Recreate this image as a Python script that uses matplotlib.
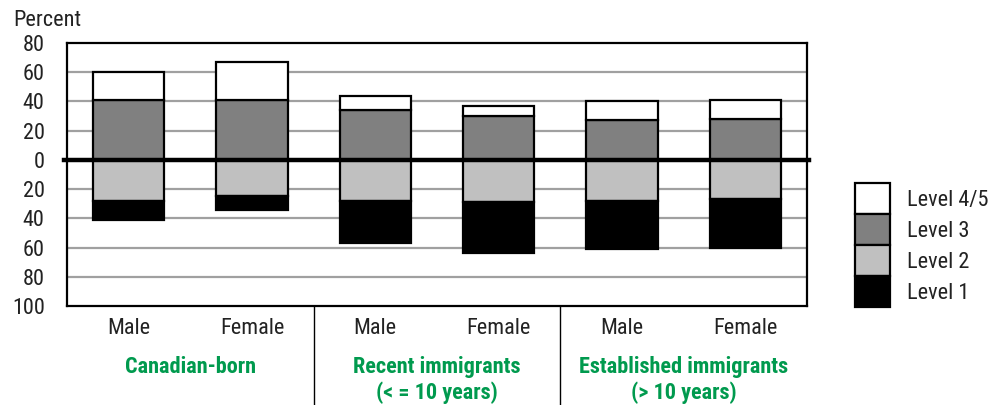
import os
import matplotlib.pyplot as plt
import numpy as np
from matplotlib.patches import Patch
from matplotlib import font_manager as fm

# bars: Male / Female within each group
sexes = ['Male', 'Female', 'Male', 'Female', 'Male', 'Female']
groups = ['Canadian-born', 'Recent immigrants\n(< = 10 years)', 'Established immigrants\n(> 10 years)']

level1 = [13, 9, 29, 35, 33, 33]
level2 = [28, 25, 28, 29, 28, 27]
level3 = [41, 41, 34, 30, 27, 28]
level45 = [19, 26, 10, 7, 13, 13]

c45, c3, c2, c1 = 'white', '#808080', '#c0c0c0', 'black'
green = '#009a4e'
txt = '#222222'

# look for a narrow / condensed font, the original uses a condensed Helvetica
files = {os.path.basename(f.fname).lower(): f.fname for f in fm.fontManager.ttflist}
pairs = [('liberationsansnarrow-regular.ttf', 'liberationsansnarrow-bold.ttf'),
         ('robotocondensed-regular.ttf', 'robotocondensed-bold.ttf'),
         ('dejavusanscondensed.ttf', 'dejavusanscondensed-bold.ttf'),
         ('opensans_condensed-regular.ttf', 'opensans_condensed-bold.ttf')]
reg, bold = None, None
for r, b in pairs:
    if r in files and b in files:
        reg, bold = files[r], files[b]
        break
if reg:
    fsize = 16
    fp = fm.FontProperties(fname=reg, size=fsize)
    fpb = fm.FontProperties(fname=bold, size=fsize)
else:
    fsize = 13
    fp = fm.FontProperties(family='Liberation Sans', size=fsize)
    fpb = fm.FontProperties(family='Liberation Sans', weight='bold', size=fsize)

fig = plt.figure(figsize=(9.98, 4.05), dpi=100)
ax = fig.add_axes([0.0671, 0.2444, 0.7415, 0.6494])

x = np.arange(len(sexes))
l1 = np.array(level1)
l2 = np.array(level2)
l3 = np.array(level3)
l45 = np.array(level45)
w = 0.58
ek = dict(edgecolor='black', linewidth=1.6, zorder=3)

ax.bar(x, l3, w, bottom=0, color=c3, **ek)
ax.bar(x, l45, w, bottom=l3, color=c45, **ek)
ax.bar(x, -l2, w, bottom=0, color=c2, **ek)
ax.bar(x, -l1, w, bottom=-l2, color=c1, **ek)

ax.set_xlim(-0.5, 5.5)
ax.set_ylim(-100, 80)
ticks = [80, 60, 40, 20, 0, -20, -40, -60, -80, -100]
ax.set_yticks(ticks)
ax.set_yticklabels([str(abs(t)) for t in ticks], fontproperties=fp, color=txt)
ax.tick_params(axis='y', length=0, pad=16)
ax.set_xticks([])

for t in ticks[1:-1]:
    if t != 0:
        ax.axhline(t, color='#a0a0a0', linewidth=1.6, zorder=1)
ax.plot([-0.52, 5.52], [0, 0], color='black', linewidth=3.2, zorder=4, clip_on=False)

for s in ax.spines.values():
    s.set_linewidth(1.6)

ax.text(-0.072, 1.087, 'Percent', transform=ax.transAxes, fontproperties=fp, color=txt,
        ha='left', va='center')

# category labels under the plot
for i, s in enumerate(sexes):
    ax.text(i, -0.086, s, transform=ax.get_xaxis_transform(), ha='center', va='center',
            fontproperties=fp, color=txt)
for g, lab in enumerate(groups):
    for k, line in enumerate(lab.split('\n')):
        ax.text(2 * g + 0.5, -0.232 - 0.099 * k, line, transform=ax.get_xaxis_transform(),
                ha='center', va='center', fontproperties=fpb, color=green)
for sx in [1.5, 3.5]:
    ax.plot([sx, sx], [0, -0.38], transform=ax.get_xaxis_transform(), color='black',
            linewidth=1.0, clip_on=False)

handles = [Patch(facecolor=c45, edgecolor='black', linewidth=1.6, label='Level 4/5'),
           Patch(facecolor=c3, edgecolor='black', linewidth=1.6, label='Level 3'),
           Patch(facecolor=c2, edgecolor='black', linewidth=1.6, label='Level 2'),
           Patch(facecolor=c1, edgecolor='black', linewidth=1.6, label='Level 1')]
leg = fig.legend(handles=handles, loc='upper left', bbox_to_anchor=(0.857, 0.548), frameon=False,
                 prop=fp, borderpad=0, labelspacing=0, handleheight=1.77, handlelength=1.575,
                 handletextpad=0.77, borderaxespad=0)
for t in leg.get_texts():
    t.set_color(txt)

fig.savefig('out.png', dpi=100)
